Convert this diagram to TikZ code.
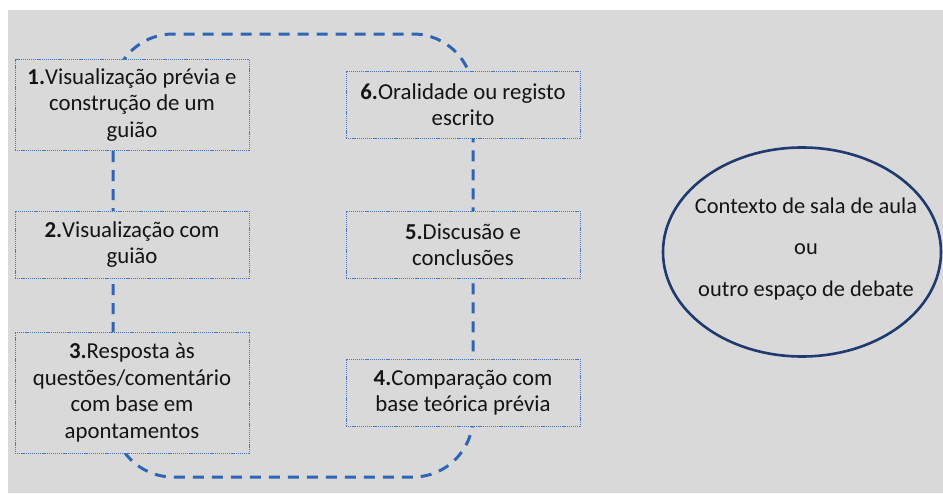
\documentclass[tikz,border=0pt]{standalone}
\usepackage{fontspec}
\setmainfont{Carlito}
\definecolor{bggray}{HTML}{D9D9D9}
\definecolor{loopblue}{HTML}{3065B5}
\definecolor{boxblue}{HTML}{4A78C8}
\definecolor{navy}{HTML}{1F3A6E}
\definecolor{txt}{HTML}{141414}
\tikzset{
  stepbox/.style={draw=boxblue, line width=0.8pt, dash pattern=on 1.2pt off 0.9pt,
    fill=bggray, minimum width=234pt, inner sep=0pt, align=center,
    font=\fontsize{22.8pt}{26.5pt}\selectfont, text=txt},
  loopline/.style={draw=loopblue, line width=3pt, dash pattern=on 11pt off 8pt, rounded corners=60pt},
  ctx/.style={draw=navy, line width=2.6pt, ellipse, minimum width=278pt, minimum height=209pt, inner sep=0pt}
}
\usetikzlibrary{shapes.geometric}
\begin{document}
\begin{tikzpicture}[x=1pt,y=-1pt]
\useasboundingbox (0,0) rectangle (943,493);
\fill[white] (0,0) rectangle (943,493);
\fill[bggray] (8,10) rectangle (943,493);
\coordinate (loopTL) at (113,34);
\coordinate (loopBR) at (473,477);
\draw[loopline] (loopTL) rectangle (loopBR);
\node[stepbox, minimum height=91pt] (b1) at (132,105) {\textbf{1.}Visualização prévia e\\construção de um\\guião};
\node[stepbox, minimum height=67pt] (b2) at (132,244.5) {\textbf{2.}Visualização com\\guião};
\node[stepbox, minimum height=121pt] (b3) at (132,392.5) {\textbf{3.}Resposta às\\questões/comentário\\com base em\\apontamentos};
\node[stepbox, minimum height=67pt] (b4) at (463,392.5) {\textbf{4.}Comparação com\\base teórica prévia};
\node[stepbox, minimum height=67pt] (b5) at (463,244.5) {\textbf{5.}Discusão e\\conclusões};
\node[stepbox, minimum height=67pt] (b6) at (463,104.5) {\textbf{6.}Oralidade ou registo\\escrito};
\node[ctx] (ctx) at (802,252) {};
\node[align=center, font=\fontsize{22.4pt}{41.5pt}\selectfont, text=txt] (ctxt) at (806,249) {Contexto de sala de aula\\ou\\outro espaço de debate};
\end{tikzpicture}
\end{document}
